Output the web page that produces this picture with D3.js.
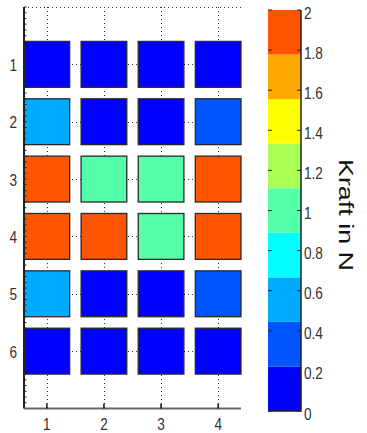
<!DOCTYPE html>
<html lang="de">
<head>
<meta charset="UTF-8">
<title>Kraft in N</title>
<style>
  body { margin: 0; background: #fff; }
  text { font-family: "Liberation Sans", Arial, sans-serif; }
</style>
</head>
<body>
<div id="chart"></div>
<script src="https://d3js.org/d3.v7.min.js"></script>
<script>
// data: force per cell (rows 1..6, columns 1..4)
var rows = [1, 2, 3, 4, 5, 6];
var cols = [1, 2, 3, 4];
var force = [
    [0, 0, 0, 0],
    [0.5, 0, 0, 0.3],
    [2, 1, 1, 2],
    [2, 2, 1, 2],
    [0.5, 0, 0, 0.3],
    [0, 0, 0, 0]
];
var cbTicks = [0, 0.2, 0.4, 0.6, 0.8, 1, 1.2, 1.4, 1.6, 1.8, 2];
var cmap = ["#0000ff", "#0055ff", "#00aaff", "#00ffff", "#55ffaa",
            "#aaff55", "#ffff00", "#ffaa00", "#ff5500"];
var cbLabel = "Kraft in N";

var W = 367, H = 433;
var svg = d3.select("#chart").append("svg")
    .attr("width", W).attr("height", H);

var plot = {left: 24, right: 241, top: 7, bottom: 408.5};

var x = d3.scaleLinear().domain([0.6, 4.4]).range([plot.left, plot.right]);
var y = d3.scaleLinear().domain([0, 7]).range([plot.top, plot.bottom]);
var color = d3.scaleQuantize().domain([0, 2]).range(cmap);

// narrow tall tick font, like the original
function label(g, tx, ty, anchor, txt) {
    g.append("g").attr("transform", "translate(" + tx + "," + ty + ") scale(0.8,1)")
        .append("text").attr("text-anchor", anchor)
        .attr("font-size", 17).attr("fill", "#333").text(txt);
}

// dotted grid
var grid = svg.append("g").attr("stroke", "#333").attr("stroke-width", 1)
    .attr("stroke-dasharray", "1,3");
grid.selectAll("line.v").data(cols).enter().append("line")
    .attr("x1", d => Math.round(x(d)) + 0.5).attr("x2", d => Math.round(x(d)) + 0.5)
    .attr("y1", plot.top).attr("y2", plot.bottom);
grid.selectAll("line.h").data([0].concat(rows)).enter().append("line")
    .attr("y1", d => Math.round(y(d)) + 0.5).attr("y2", d => Math.round(y(d)) + 0.5)
    .attr("x1", plot.left).attr("x2", plot.right);

// cells
var cells = [];
force.forEach(function (r, i) {
    r.forEach(function (v, j) { cells.push({row: rows[i], col: cols[j], v: v}); });
});
svg.append("g").selectAll("rect").data(cells).enter().append("rect")
    .attr("x", d => x(d.col - 0.4))
    .attr("y", d => y(d.row - 0.4))
    .attr("width", d => x(d.col + 0.4) - x(d.col - 0.4))
    .attr("height", d => y(d.row + 0.4) - y(d.row - 0.4))
    .attr("fill", d => color(d.v))
    .attr("stroke", "#2a2a2a")
    .attr("stroke-width", 1.3);

// left axis with minor ticks
var yAx = svg.append("g");
yAx.append("line").attr("x1", plot.left).attr("x2", plot.left)
    .attr("y1", plot.top).attr("y2", plot.bottom)
    .attr("stroke", "#222").attr("stroke-width", 2);
yAx.selectAll("line.m").data(d3.range(0, 70).map(d => d / 10)).enter().append("line")
    .attr("x1", plot.left).attr("x2", plot.left + 2.5)
    .attr("y1", d => y(d)).attr("y2", d => y(d))
    .attr("stroke", "#222").attr("stroke-width", 1);
rows.forEach(d => label(yAx, 17, y(d) + 6.5, "end", d));

// bottom axis
var xAx = svg.append("g");
xAx.append("line").attr("x1", plot.left).attr("x2", plot.right)
    .attr("y1", plot.bottom).attr("y2", plot.bottom)
    .attr("stroke", "#666").attr("stroke-width", 2);
xAx.selectAll("line.t").data(cols).enter().append("line")
    .attr("x1", d => x(d)).attr("x2", d => x(d))
    .attr("y1", plot.bottom).attr("y2", plot.bottom - 5)
    .attr("stroke", "#111").attr("stroke-width", 1.5);
cols.forEach(d => label(xAx, x(d), 430, "middle", d));

// colorbar
var cb = {left: 268, right: 301, top: 10, bottom: 411};
var cy = d3.scaleLinear().domain([0, 2]).range([cb.bottom, cb.top]);
var band = 2 / cmap.length;
svg.append("g").selectAll("rect").data(cmap).enter().append("rect")
    .attr("x", cb.left).attr("width", cb.right - cb.left)
    .attr("y", (d, i) => cy((i + 1) * band))
    .attr("height", (d, i) => cy(i * band) - cy((i + 1) * band))
    .attr("fill", d => d);
svg.append("path")
    .attr("d", "M" + cb.right + "," + cb.top + "V" + cb.bottom + "H" + cb.left)
    .attr("fill", "none").attr("stroke", "#222").attr("stroke-width", 1.5);
var cbt = svg.append("g");
cbt.selectAll("line.l").data(cbTicks).enter().append("line")
    .attr("x1", cb.left).attr("x2", cb.left + 4)
    .attr("y1", d => cy(d)).attr("y2", d => cy(d))
    .attr("stroke", "#222");
cbt.selectAll("line.r").data(cbTicks).enter().append("line")
    .attr("x1", cb.right - 4).attr("x2", cb.right)
    .attr("y1", d => cy(d)).attr("y2", d => cy(d))
    .attr("stroke", "#222");
cbTicks.forEach(d => label(cbt, cb.right + 3, cy(d) + 8.5, "start", d));

svg.append("text")
    .attr("transform", "translate(339,215) rotate(90)")
    .attr("text-anchor", "middle")
    .attr("font-size", 21).attr("fill", "#111")
    .attr("textLength", 112).attr("lengthAdjust", "spacingAndGlyphs")
    .text(cbLabel);
</script>
</body>
</html>
